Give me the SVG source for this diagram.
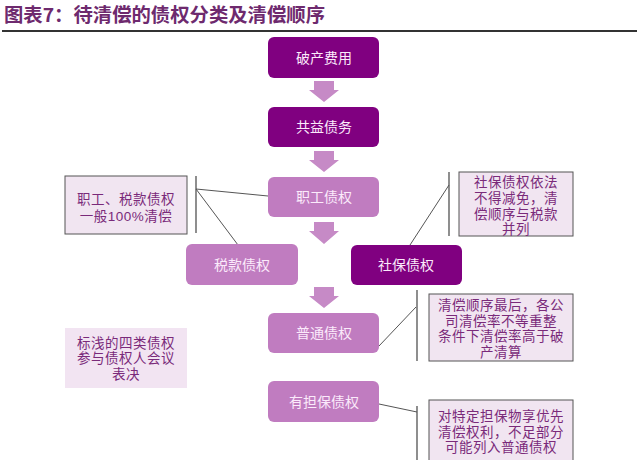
<svg xmlns="http://www.w3.org/2000/svg" width="640" height="460" viewBox="0 0 640 460">
<defs>
<style>
.t{font-family:"Noto Sans CJK SC","Liberation Sans",sans-serif;}
.s{font-family:"Liberation Sans","Noto Sans CJK SC",sans-serif;}
.title{font-size:19px;font-weight:bold;fill:#6e2a6e;}
.dark{fill:#800080;}
.light{fill:#c07cc0;}
.bt{font-size:14px;fill:#fbeafb;text-anchor:middle;}
.note{fill:#f1e5f1;stroke:#555;stroke-width:1;}
.note2{fill:#f2e4f2;}
.nt{font-size:13.5px;letter-spacing:0.5px;fill:#7a2a7a;text-anchor:middle;}
.arr{fill:#c68ac6;}
.ln{stroke:#555;stroke-width:1;fill:none;}
.br{stroke:#444;stroke-width:1.2;fill:none;}
</style>
</defs>
<rect width="640" height="460" fill="#ffffff"/>
<text class="t title" x="4" y="22" textLength="321" lengthAdjust="spacingAndGlyphs">图表7：待清偿的债权分类及清偿顺序</text>
<line x1="2" y1="31" x2="637" y2="31" stroke="#333" stroke-width="2"/>

<g id="arrows">
<path class="arr" d="M314 81 H334 V90 H339 L324 102 L309 90 H314 Z"/>
<path class="arr" d="M314 151 H334 V160 H339 L324 172 L309 160 H314 Z"/>
<path class="arr" d="M314 222 H334 V231 H339 L324 244 L309 231 H314 Z"/>
<path class="arr" d="M314 287 H334 V296 H339 L324 308 L309 296 H314 Z"/>
</g>

<g id="connectors">
<line class="br" x1="196" y1="176" x2="196" y2="233"/>
<line class="ln" x1="196" y1="189" x2="268" y2="196"/>
<line class="ln" x1="196" y1="189" x2="238" y2="245"/>
<line class="br" x1="449" y1="172" x2="449" y2="236"/>
<line class="ln" x1="449" y1="185" x2="410" y2="245"/>
<line class="br" x1="417" y1="290" x2="417" y2="361"/>
<line class="ln" x1="379" y1="346" x2="416" y2="307"/>
<line class="br" x1="417" y1="406" x2="417" y2="460"/>
<line class="ln" x1="379" y1="404" x2="417" y2="412"/>
</g>

<g id="n1"><rect class="dark" x="268" y="37" width="111" height="41" rx="6"/><text class="t bt" x="324" y="62.5">破产费用</text></g>
<g id="n2"><rect class="dark" x="268" y="107" width="111" height="40" rx="6"/><text class="t bt" x="324" y="132">共益债务</text></g>
<g id="n3"><rect class="light" x="268" y="177" width="111" height="40" rx="6"/><text class="t bt" x="324" y="202">职工债权</text></g>
<g id="n4"><rect class="light" x="186" y="244" width="112" height="41" rx="6"/><text class="t bt" x="242" y="269.5">税款债权</text></g>
<g id="n5"><rect class="dark" x="351" y="245" width="111" height="40" rx="6"/><text class="t bt" x="406" y="270">社保债权</text></g>
<g id="n6"><rect class="light" x="268" y="313" width="111" height="40" rx="6"/><text class="t bt" x="324" y="338">普通债权</text></g>
<g id="n7"><rect class="light" x="268" y="381" width="111" height="41" rx="6"/><text class="t bt" x="324" y="406.5">有担保债权</text></g>

<g id="note1"><rect class="note" x="65" y="176" width="122" height="58"/>
<text class="s nt" x="126" y="204">职工、税款债权</text>
<text class="s nt" x="126" y="221">一般100%清偿</text></g>

<g id="note2"><rect class="note" x="459" y="172" width="114" height="64"/>
<text class="s nt" x="516" y="187">社保债权依法</text>
<text class="s nt" x="516" y="203">不得减免，清</text>
<text class="s nt" x="516" y="218.5">偿顺序与税款</text>
<text class="s nt" x="516" y="234">并列</text></g>

<g id="note3"><rect class="note" x="429" y="294" width="144" height="67"/>
<text class="s nt" x="501" y="310">清偿顺序最后，各公</text>
<text class="s nt" x="501" y="325.5">司清偿率不等重整</text>
<text class="s nt" x="501" y="341">条件下清偿率高于破</text>
<text class="s nt" x="501" y="356.5">产清算</text></g>

<g id="note4"><rect class="note2" x="65" y="328" width="122" height="60"/>
<text class="s nt" x="126" y="347.5">标浅的四类债权</text>
<text class="s nt" x="126" y="363">参与债权人会议</text>
<text class="s nt" x="126" y="378.5">表决</text></g>

<g id="note5"><rect class="note" x="429" y="400" width="144" height="65"/>
<text class="s nt" x="501" y="421">对特定担保物享优先</text>
<text class="s nt" x="501" y="436.5">清偿权利，不足部分</text>
<text class="s nt" x="501" y="452">可能列入普通债权</text></g>
</svg>
